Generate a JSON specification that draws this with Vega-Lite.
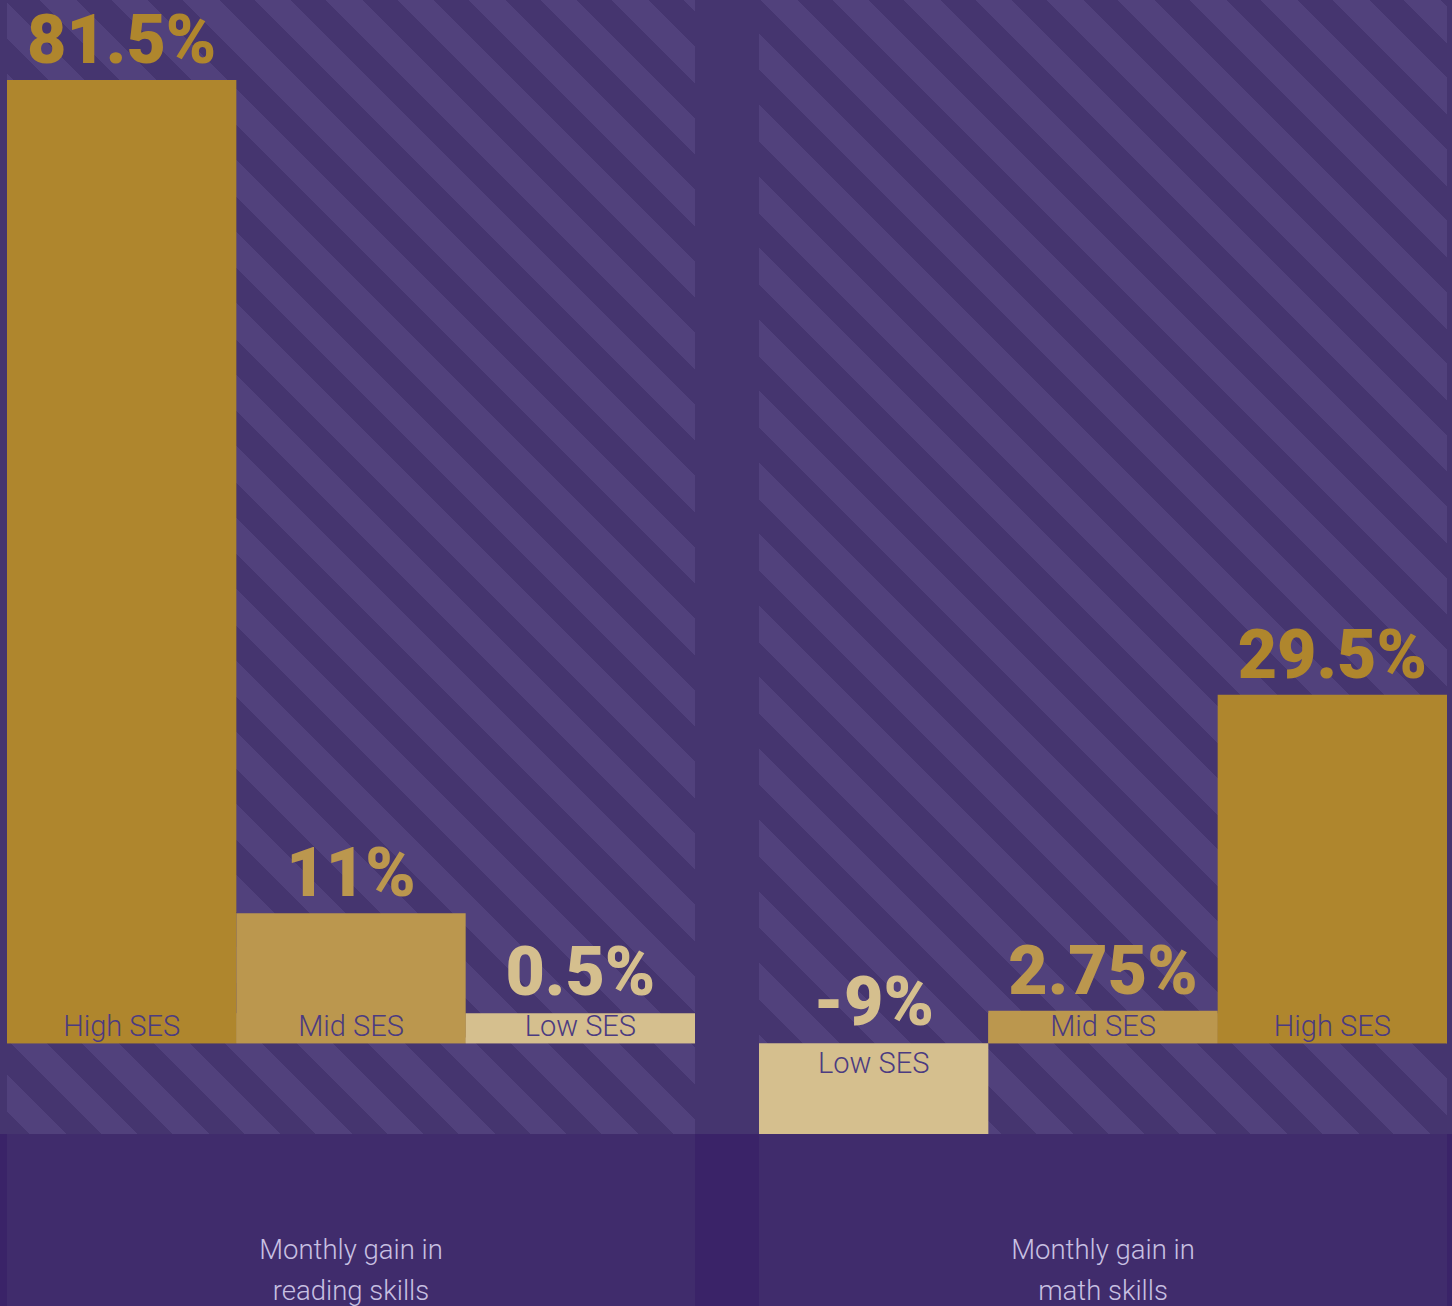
{
  "$schema": "https://vega.github.io/schema/vega-lite/v6.json",
  "background": "#3a2368",
  "padding": 0,
  "spacing": 0,
  "config": {"view": {"stroke": null}, "axis": {"disable": true}},
  "datasets": {
    "bars": [
      {"skill": "reading", "ses": "High SES", "value": 81.5, "label": "81.5%"},
      {"skill": "reading", "ses": "Mid SES", "value": 11, "label": "11%"},
      {"skill": "reading", "ses": "Low SES", "value": 0.5, "label": "0.5%"},
      {"skill": "math", "ses": "Low SES", "value": -9, "label": "-9%"},
      {"skill": "math", "ses": "Mid SES", "value": 2.75, "label": "2.75%"},
      {"skill": "math", "ses": "High SES", "value": 29.5, "label": "29.5%"}
    ]
  },
  "hconcat": [
    {
      "width": 7, "height": 1306,
      "data": {"values": [{}]},
      "mark": {"type": "rect", "fill": "#45356f"},
      "encoding": {
        "y": {"datum": -7.67, "type": "quantitative", "scale": {"domain": [-22.22, 88.27], "nice": false, "zero": false}, "axis": null},
        "y2": {"datum": 88.27}
      }
    },
    {
      "width": 688, "height": 1306,
      "data": {"name": "bars"},
      "layer": [
        {
          "data": {"values": [{}]},
          "mark": {"type": "rect", "strokeWidth": 0, "fill": {"gradient": "linear", "x1": 0, "y1": 1, "x2": 0.7125, "y2": -0.1744, "stops": [
            {"offset": 0, "color": "#45356f"},
            {"offset": 0.0125, "color": "#45356f"}, {"offset": 0.0125, "color": "#51417c"}, {"offset": 0.0325, "color": "#51417c"}, {"offset": 0.0325, "color": "#45356f"},
            {"offset": 0.0517, "color": "#45356f"}, {"offset": 0.0517, "color": "#51417c"}, {"offset": 0.0718, "color": "#51417c"}, {"offset": 0.0718, "color": "#45356f"},
            {"offset": 0.0909, "color": "#45356f"}, {"offset": 0.0909, "color": "#51417c"}, {"offset": 0.1110, "color": "#51417c"}, {"offset": 0.1110, "color": "#45356f"},
            {"offset": 0.1302, "color": "#45356f"}, {"offset": 0.1302, "color": "#51417c"}, {"offset": 0.1503, "color": "#51417c"}, {"offset": 0.1503, "color": "#45356f"},
            {"offset": 0.1694, "color": "#45356f"}, {"offset": 0.1694, "color": "#51417c"}, {"offset": 0.1895, "color": "#51417c"}, {"offset": 0.1895, "color": "#45356f"},
            {"offset": 0.2087, "color": "#45356f"}, {"offset": 0.2087, "color": "#51417c"}, {"offset": 0.2288, "color": "#51417c"}, {"offset": 0.2288, "color": "#45356f"},
            {"offset": 0.2479, "color": "#45356f"}, {"offset": 0.2479, "color": "#51417c"}, {"offset": 0.2680, "color": "#51417c"}, {"offset": 0.2680, "color": "#45356f"},
            {"offset": 0.2872, "color": "#45356f"}, {"offset": 0.2872, "color": "#51417c"}, {"offset": 0.3072, "color": "#51417c"}, {"offset": 0.3072, "color": "#45356f"},
            {"offset": 0.3264, "color": "#45356f"}, {"offset": 0.3264, "color": "#51417c"}, {"offset": 0.3465, "color": "#51417c"}, {"offset": 0.3465, "color": "#45356f"},
            {"offset": 0.3656, "color": "#45356f"}, {"offset": 0.3656, "color": "#51417c"}, {"offset": 0.3857, "color": "#51417c"}, {"offset": 0.3857, "color": "#45356f"},
            {"offset": 0.4049, "color": "#45356f"}, {"offset": 0.4049, "color": "#51417c"}, {"offset": 0.4250, "color": "#51417c"}, {"offset": 0.4250, "color": "#45356f"},
            {"offset": 0.4441, "color": "#45356f"}, {"offset": 0.4441, "color": "#51417c"}, {"offset": 0.4642, "color": "#51417c"}, {"offset": 0.4642, "color": "#45356f"},
            {"offset": 0.4834, "color": "#45356f"}, {"offset": 0.4834, "color": "#51417c"}, {"offset": 0.5035, "color": "#51417c"}, {"offset": 0.5035, "color": "#45356f"},
            {"offset": 0.5226, "color": "#45356f"}, {"offset": 0.5226, "color": "#51417c"}, {"offset": 0.5427, "color": "#51417c"}, {"offset": 0.5427, "color": "#45356f"},
            {"offset": 0.5619, "color": "#45356f"}, {"offset": 0.5619, "color": "#51417c"}, {"offset": 0.5819, "color": "#51417c"}, {"offset": 0.5819, "color": "#45356f"},
            {"offset": 0.6011, "color": "#45356f"}, {"offset": 0.6011, "color": "#51417c"}, {"offset": 0.6212, "color": "#51417c"}, {"offset": 0.6212, "color": "#45356f"},
            {"offset": 0.6403, "color": "#45356f"}, {"offset": 0.6403, "color": "#51417c"}, {"offset": 0.6604, "color": "#51417c"}, {"offset": 0.6604, "color": "#45356f"},
            {"offset": 0.6796, "color": "#45356f"}, {"offset": 0.6796, "color": "#51417c"}, {"offset": 0.6997, "color": "#51417c"}, {"offset": 0.6997, "color": "#45356f"},
            {"offset": 0.7188, "color": "#45356f"}, {"offset": 0.7188, "color": "#51417c"}, {"offset": 0.7389, "color": "#51417c"}, {"offset": 0.7389, "color": "#45356f"},
            {"offset": 0.7581, "color": "#45356f"}, {"offset": 0.7581, "color": "#51417c"}, {"offset": 0.7782, "color": "#51417c"}, {"offset": 0.7782, "color": "#45356f"},
            {"offset": 0.7973, "color": "#45356f"}, {"offset": 0.7973, "color": "#51417c"}, {"offset": 0.8174, "color": "#51417c"}, {"offset": 0.8174, "color": "#45356f"},
            {"offset": 0.8366, "color": "#45356f"}, {"offset": 0.8366, "color": "#51417c"}, {"offset": 0.8567, "color": "#51417c"}, {"offset": 0.8567, "color": "#45356f"},
            {"offset": 0.8758, "color": "#45356f"}, {"offset": 0.8758, "color": "#51417c"}, {"offset": 0.8959, "color": "#51417c"}, {"offset": 0.8959, "color": "#45356f"},
            {"offset": 0.9150, "color": "#45356f"}, {"offset": 0.9150, "color": "#51417c"}, {"offset": 0.9351, "color": "#51417c"}, {"offset": 0.9351, "color": "#45356f"},
            {"offset": 0.9543, "color": "#45356f"}, {"offset": 0.9543, "color": "#51417c"}, {"offset": 0.9744, "color": "#51417c"}, {"offset": 0.9744, "color": "#45356f"},
            {"offset": 0.9935, "color": "#45356f"}, {"offset": 0.9935, "color": "#51417c"}, {"offset": 1, "color": "#51417c"}
          ]}},
          "encoding": {
            "y": {"datum": -7.67, "type": "quantitative", "scale": {"domain": [-22.22, 88.27], "nice": false, "zero": false}, "axis": null},
            "y2": {"datum": 88.27}
          }
        },
        {
          "transform": [{"filter": "datum.skill === 'reading' && datum.value > 0"}],
          "mark": {"type": "bar", "yOffset": -30},
          "encoding": {
            "x": {"field": "ses", "type": "nominal", "scale": {"domain": ["High SES", "Mid SES", "Low SES"], "paddingInner": 0, "paddingOuter": 0}, "axis": null},
            "y": {"datum": 0, "type": "quantitative"},
            "y2": {"datum": 0},
            "color": {"field": "ses", "type": "nominal", "scale": {"domain": ["High SES", "Mid SES", "Low SES"], "range": ["#af862d", "#bb974e", "#d5bf8e"]}, "legend": null}
          }
        },
        {
          "transform": [{"filter": "datum.skill === 'reading'"}],
          "mark": {"type": "bar"},
          "encoding": {
            "x": {"field": "ses", "type": "nominal", "axis": null},
            "y": {"field": "value", "type": "quantitative", "axis": null},
            "color": {"field": "ses", "type": "nominal", "legend": null}
          }
        },
        {
          "data": {"values": [{}]},
          "mark": {"type": "rect", "fill": "#402c6c"},
          "encoding": {
            "y": {"datum": -22.22, "type": "quantitative"},
            "y2": {"datum": -7.67}
          }
        },
        {
          "transform": [{"filter": "datum.skill === 'reading' && datum.value > 0"}],
          "mark": {"type": "text", "font": "Roboto", "fontWeight": 300, "fontSize": 29, "fill": "#4b3b81", "baseline": "alphabetic", "align": "center", "dy": -7},
          "encoding": {
            "x": {"field": "ses", "type": "nominal"},
            "y": {"datum": 0, "type": "quantitative"},
            "text": {"field": "ses"}
          }
        },
        {
          "transform": [{"filter": "datum.skill === 'reading' && datum.value >= 2"}],
          "mark": {"type": "text", "font": "Roboto", "fontWeight": 900, "fontSize": 68, "baseline": "alphabetic", "align": "center", "dy": -17},
          "encoding": {
            "x": {"field": "ses", "type": "nominal"},
            "y": {"field": "value", "type": "quantitative"},
            "text": {"field": "label"},
            "color": {"field": "ses", "type": "nominal", "legend": null}
          }
        },
        {
          "transform": [{"filter": "datum.skill === 'reading' && datum.value > 0 && datum.value < 2"}],
          "mark": {"type": "text", "font": "Roboto", "fontWeight": 900, "fontSize": 68, "baseline": "alphabetic", "align": "center", "dy": -48},
          "encoding": {
            "x": {"field": "ses", "type": "nominal"},
            "y": {"datum": 0, "type": "quantitative"},
            "text": {"field": "label"},
            "color": {"field": "ses", "type": "nominal", "legend": null}
          }
        },
        {
          "data": {"values": [{}]},
          "mark": {"type": "text", "text": ["Monthly gain in", "reading skills"], "font": "Roboto", "fontWeight": 300, "fontSize": 27.5, "fill": "#c8c0e2", "baseline": "alphabetic", "align": "center", "dy": 125, "lineHeight": 41},
          "encoding": {
            "y": {"datum": -7.67, "type": "quantitative"}
          }
        }
      ]
    },
    {
      "width": 64, "height": 1306,
      "data": {"values": [{}]},
      "mark": {"type": "rect", "fill": "#45356f"},
      "encoding": {
        "y": {"datum": -7.67, "type": "quantitative", "scale": {"domain": [-22.22, 88.27], "nice": false, "zero": false}, "axis": null},
        "y2": {"datum": 88.27}
      }
    },
    {
      "width": 688, "height": 1306,
      "data": {"name": "bars"},
      "layer": [
        {
          "data": {"values": [{}]},
          "mark": {"type": "rect", "strokeWidth": 0, "fill": {"gradient": "linear", "x1": 0, "y1": 1, "x2": 0.7125, "y2": -0.1744, "stops": [
            {"offset": 0, "color": "#51417c"}, {"offset": 0.0154, "color": "#51417c"}, {"offset": 0.0154, "color": "#45356f"},
            {"offset": 0.0346, "color": "#45356f"}, {"offset": 0.0346, "color": "#51417c"}, {"offset": 0.0547, "color": "#51417c"}, {"offset": 0.0547, "color": "#45356f"},
            {"offset": 0.0738, "color": "#45356f"}, {"offset": 0.0738, "color": "#51417c"}, {"offset": 0.0939, "color": "#51417c"}, {"offset": 0.0939, "color": "#45356f"},
            {"offset": 0.1131, "color": "#45356f"}, {"offset": 0.1131, "color": "#51417c"}, {"offset": 0.1332, "color": "#51417c"}, {"offset": 0.1332, "color": "#45356f"},
            {"offset": 0.1523, "color": "#45356f"}, {"offset": 0.1523, "color": "#51417c"}, {"offset": 0.1724, "color": "#51417c"}, {"offset": 0.1724, "color": "#45356f"},
            {"offset": 0.1916, "color": "#45356f"}, {"offset": 0.1916, "color": "#51417c"}, {"offset": 0.2116, "color": "#51417c"}, {"offset": 0.2116, "color": "#45356f"},
            {"offset": 0.2308, "color": "#45356f"}, {"offset": 0.2308, "color": "#51417c"}, {"offset": 0.2509, "color": "#51417c"}, {"offset": 0.2509, "color": "#45356f"},
            {"offset": 0.2700, "color": "#45356f"}, {"offset": 0.2700, "color": "#51417c"}, {"offset": 0.2901, "color": "#51417c"}, {"offset": 0.2901, "color": "#45356f"},
            {"offset": 0.3093, "color": "#45356f"}, {"offset": 0.3093, "color": "#51417c"}, {"offset": 0.3294, "color": "#51417c"}, {"offset": 0.3294, "color": "#45356f"},
            {"offset": 0.3485, "color": "#45356f"}, {"offset": 0.3485, "color": "#51417c"}, {"offset": 0.3686, "color": "#51417c"}, {"offset": 0.3686, "color": "#45356f"},
            {"offset": 0.3878, "color": "#45356f"}, {"offset": 0.3878, "color": "#51417c"}, {"offset": 0.4079, "color": "#51417c"}, {"offset": 0.4079, "color": "#45356f"},
            {"offset": 0.4270, "color": "#45356f"}, {"offset": 0.4270, "color": "#51417c"}, {"offset": 0.4471, "color": "#51417c"}, {"offset": 0.4471, "color": "#45356f"},
            {"offset": 0.4663, "color": "#45356f"}, {"offset": 0.4663, "color": "#51417c"}, {"offset": 0.4863, "color": "#51417c"}, {"offset": 0.4863, "color": "#45356f"},
            {"offset": 0.5055, "color": "#45356f"}, {"offset": 0.5055, "color": "#51417c"}, {"offset": 0.5256, "color": "#51417c"}, {"offset": 0.5256, "color": "#45356f"},
            {"offset": 0.5447, "color": "#45356f"}, {"offset": 0.5447, "color": "#51417c"}, {"offset": 0.5648, "color": "#51417c"}, {"offset": 0.5648, "color": "#45356f"},
            {"offset": 0.5840, "color": "#45356f"}, {"offset": 0.5840, "color": "#51417c"}, {"offset": 0.6041, "color": "#51417c"}, {"offset": 0.6041, "color": "#45356f"},
            {"offset": 0.6232, "color": "#45356f"}, {"offset": 0.6232, "color": "#51417c"}, {"offset": 0.6433, "color": "#51417c"}, {"offset": 0.6433, "color": "#45356f"},
            {"offset": 0.6625, "color": "#45356f"}, {"offset": 0.6625, "color": "#51417c"}, {"offset": 0.6826, "color": "#51417c"}, {"offset": 0.6826, "color": "#45356f"},
            {"offset": 0.7017, "color": "#45356f"}, {"offset": 0.7017, "color": "#51417c"}, {"offset": 0.7218, "color": "#51417c"}, {"offset": 0.7218, "color": "#45356f"},
            {"offset": 0.7410, "color": "#45356f"}, {"offset": 0.7410, "color": "#51417c"}, {"offset": 0.7610, "color": "#51417c"}, {"offset": 0.7610, "color": "#45356f"},
            {"offset": 0.7802, "color": "#45356f"}, {"offset": 0.7802, "color": "#51417c"}, {"offset": 0.8003, "color": "#51417c"}, {"offset": 0.8003, "color": "#45356f"},
            {"offset": 0.8194, "color": "#45356f"}, {"offset": 0.8194, "color": "#51417c"}, {"offset": 0.8395, "color": "#51417c"}, {"offset": 0.8395, "color": "#45356f"},
            {"offset": 0.8587, "color": "#45356f"}, {"offset": 0.8587, "color": "#51417c"}, {"offset": 0.8788, "color": "#51417c"}, {"offset": 0.8788, "color": "#45356f"},
            {"offset": 0.8979, "color": "#45356f"}, {"offset": 0.8979, "color": "#51417c"}, {"offset": 0.9180, "color": "#51417c"}, {"offset": 0.9180, "color": "#45356f"},
            {"offset": 0.9372, "color": "#45356f"}, {"offset": 0.9372, "color": "#51417c"}, {"offset": 0.9573, "color": "#51417c"}, {"offset": 0.9573, "color": "#45356f"},
            {"offset": 0.9764, "color": "#45356f"}, {"offset": 0.9764, "color": "#51417c"}, {"offset": 0.9965, "color": "#51417c"}, {"offset": 0.9965, "color": "#45356f"},
            {"offset": 1, "color": "#45356f"}
          ]}},
          "encoding": {
            "y": {"datum": -7.67, "type": "quantitative", "scale": {"domain": [-22.22, 88.27], "nice": false, "zero": false}, "axis": null},
            "y2": {"datum": 88.27}
          }
        },
        {
          "transform": [{"filter": "datum.skill === 'math' && datum.value > 0"}],
          "mark": {"type": "bar", "yOffset": -30},
          "encoding": {
            "x": {"field": "ses", "type": "nominal", "scale": {"domain": ["Low SES", "Mid SES", "High SES"], "paddingInner": 0, "paddingOuter": 0}, "axis": null},
            "y": {"datum": 0, "type": "quantitative"},
            "y2": {"datum": 0},
            "color": {"field": "ses", "type": "nominal", "scale": {"domain": ["High SES", "Mid SES", "Low SES"], "range": ["#af862d", "#bb974e", "#d5bf8e"]}, "legend": null}
          }
        },
        {
          "transform": [{"filter": "datum.skill === 'math'"}],
          "mark": {"type": "bar"},
          "encoding": {
            "x": {"field": "ses", "type": "nominal", "axis": null},
            "y": {"field": "value", "type": "quantitative", "axis": null},
            "color": {"field": "ses", "type": "nominal", "legend": null}
          }
        },
        {
          "data": {"values": [{}]},
          "mark": {"type": "rect", "fill": "#402c6c"},
          "encoding": {
            "y": {"datum": -22.22, "type": "quantitative"},
            "y2": {"datum": -7.67}
          }
        },
        {
          "transform": [{"filter": "datum.skill === 'math' && datum.value > 0"}],
          "mark": {"type": "text", "font": "Roboto", "fontWeight": 300, "fontSize": 29, "fill": "#4b3b81", "baseline": "alphabetic", "align": "center", "dy": -7},
          "encoding": {
            "x": {"field": "ses", "type": "nominal"},
            "y": {"datum": 0, "type": "quantitative"},
            "text": {"field": "ses"}
          }
        },
        {
          "transform": [{"filter": "datum.skill === 'math' && datum.value < 0"}],
          "mark": {"type": "text", "font": "Roboto", "fontWeight": 300, "fontSize": 29, "fill": "#4b3b81", "baseline": "alphabetic", "align": "center", "dy": 30},
          "encoding": {
            "x": {"field": "ses", "type": "nominal"},
            "y": {"datum": 0, "type": "quantitative"},
            "text": {"field": "ses"}
          }
        },
        {
          "transform": [{"filter": "datum.skill === 'math' && datum.value >= 2"}],
          "mark": {"type": "text", "font": "Roboto", "fontWeight": 900, "fontSize": 68, "baseline": "alphabetic", "align": "center", "dy": -17},
          "encoding": {
            "x": {"field": "ses", "type": "nominal"},
            "y": {"field": "value", "type": "quantitative"},
            "text": {"field": "label"},
            "color": {"field": "ses", "type": "nominal", "legend": null}
          }
        },
        {
          "transform": [{"filter": "datum.skill === 'math' && datum.value < 0"}],
          "mark": {"type": "text", "font": "Roboto", "fontWeight": 900, "fontSize": 68, "baseline": "alphabetic", "align": "center", "dy": -18},
          "encoding": {
            "x": {"field": "ses", "type": "nominal"},
            "y": {"datum": 0, "type": "quantitative"},
            "text": {"field": "label"},
            "color": {"field": "ses", "type": "nominal", "legend": null}
          }
        },
        {
          "data": {"values": [{}]},
          "mark": {"type": "text", "text": ["Monthly gain in", "math skills"], "font": "Roboto", "fontWeight": 300, "fontSize": 27.5, "fill": "#c8c0e2", "baseline": "alphabetic", "align": "center", "dy": 125, "lineHeight": 41},
          "encoding": {
            "y": {"datum": -7.67, "type": "quantitative"}
          }
        }
      ]
    },
    {
      "width": 5, "height": 1306,
      "data": {"values": [{}]},
      "mark": {"type": "rect", "fill": "#45356f"},
      "encoding": {
        "y": {"datum": -7.67, "type": "quantitative", "scale": {"domain": [-22.22, 88.27], "nice": false, "zero": false}, "axis": null},
        "y2": {"datum": 88.27}
      }
    }
  ]
}
